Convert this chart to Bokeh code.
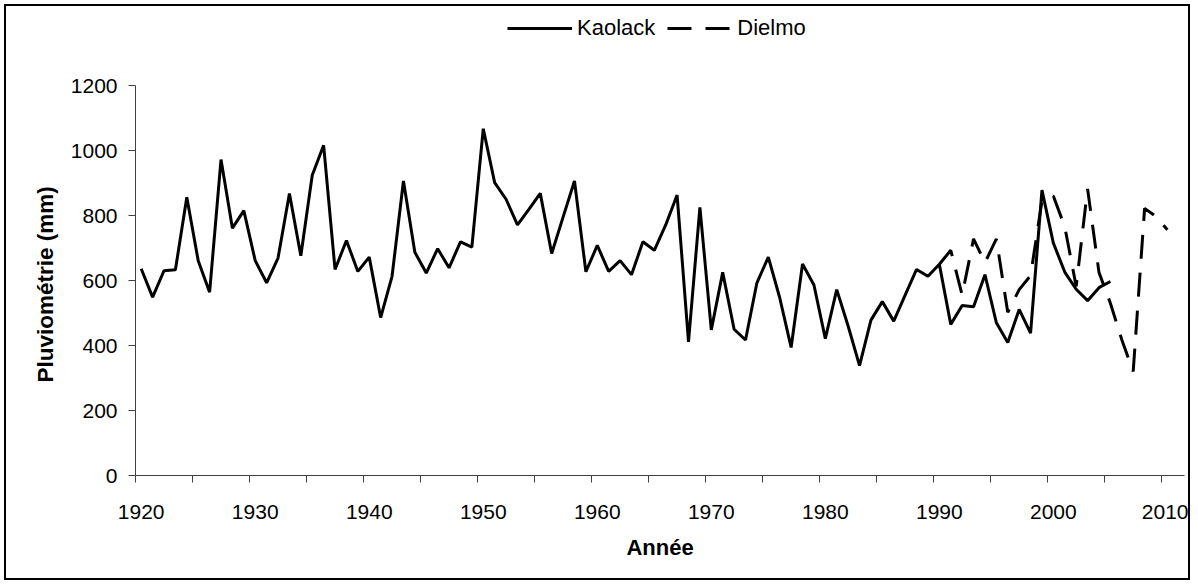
from bokeh.plotting import figure
from bokeh.models import (Range1d, FixedTicker, Legend, LegendItem, ColumnDataSource, Title)
from bokeh.embed import file_html
from bokeh.resources import INLINE

# ---------------- data ----------------
kaolack_years = list(range(1920, 2006))
kaolack_mm = [636, 549, 630, 633, 856, 661, 564, 972, 761, 815,
              661, 593, 669, 868, 676, 924, 1016, 634, 723, 628,
              672, 486, 613, 906, 687, 623, 698, 639, 719, 703,
              1067, 901, 850, 771, 819, 868, 683, 795, 906, 627,
              708, 628, 661, 618, 719, 693, 771, 863, 411, 825,
              448, 625, 450, 417, 593, 672, 547, 394, 651, 586,
              421, 572, 460, 338, 478, 535, 475, 555, 634, 613,
              650, 465, 523, 519, 618, 470, 409, 511, 438, 878,
              715, 626, 573, 538, 578, 597]

dielmo_years = list(range(1990, 2011))
dielmo_mm = [650, 693, 555, 728, 655, 728, 502, 572, 615, 845,
             860, 765, 582, 882, 625, 530, 418, 320, 822, 797, 756]

y_ticks = [0, 200, 400, 600, 800, 1000, 1200]
x_label_years = list(range(1920, 2011, 10))
x_boundary_ticks = [1919.5 + 5 * k for k in range(19)]

FONT = "Liberation Sans"
AXIS_COL = "#404040"

# layout (pixels)
PLOT_H = 576
MB_TOP = 0
MB_BOTTOM = 107
AXIS_TOP_PX = 79          # distance from canvas top to the 1200 tick
frame_h = PLOT_H - MB_TOP - MB_BOTTOM
px_per_unit = (frame_h - (AXIS_TOP_PX - MB_TOP)) / 1200.0
y_top = 1200 + (AXIS_TOP_PX - MB_TOP) / px_per_unit

p = figure(width=1186, height=PLOT_H, output_backend="svg", toolbar_location=None,
           x_range=Range1d(1919.5, 2011.5), y_range=Range1d(0, y_top),
           min_border_left=129, min_border_right=8, min_border_top=MB_TOP,
           min_border_bottom=MB_BOTTOM)
p.styles = {"border": "2px solid #000000", "margin-left": "4px",
            "margin-top": "4px"}
p.outline_line_color = None
p.xgrid.visible = False
p.ygrid.visible = False
p.background_fill_color = "white"
p.border_fill_color = "white"

src_k = ColumnDataSource(dict(x=kaolack_years, y=kaolack_mm))
src_d = ColumnDataSource(dict(x=dielmo_years, y=dielmo_mm))

r_d = p.line("x", "y", source=src_d, line_color="black", line_width=3,
             line_dash="24 14")
r_k = p.line("x", "y", source=src_k, line_color="black", line_width=3)

# x axis
xa = p.xaxis[0]
xa.ticker = FixedTicker(ticks=x_label_years, minor_ticks=x_boundary_ticks)
xa.major_tick_out = 0
xa.major_tick_in = 0
xa.minor_tick_out = 7
xa.minor_tick_in = 0
xa.axis_line_color = AXIS_COL
xa.minor_tick_line_color = AXIS_COL
xa.major_label_text_font = FONT
xa.major_label_text_font_size = "21px"
xa.major_label_text_color = "black"
xa.major_label_standoff = 22
xa.axis_label = "Année"
xa.axis_label_text_font = FONT
xa.axis_label_text_font_size = "22px"
xa.axis_label_text_font_style = "bold"
xa.axis_label_text_color = "black"
xa.axis_label_standoff = 13

# y axis
ya = p.yaxis[0]
ya.bounds = (0, 1200)
ya.ticker = FixedTicker(ticks=y_ticks)
ya.major_tick_out = 7
ya.major_tick_in = 0
ya.minor_tick_line_color = None
ya.axis_line_color = AXIS_COL
ya.major_tick_line_color = AXIS_COL
ya.major_label_text_font = FONT
ya.major_label_text_font_size = "21px"
ya.major_label_text_color = "black"
ya.major_label_standoff = 11

# y-axis title, centred on the 0-1200 axis span
y_title = Title(text="Pluviométrie (mm)", align="left", offset=93, standoff=19,
                text_font=FONT, text_font_size="22.5px", text_font_style="bold",
                text_color="black")
p.add_layout(y_title, "left")

legend = Legend(items=[LegendItem(label="Kaolack", renderers=[r_k]),
                       LegendItem(label="Dielmo", renderers=[r_d])],
                orientation="horizontal", location=(372, 434),
                border_line_color=None, background_fill_alpha=0,
                label_text_font=FONT, label_text_font_size="22px",
                label_text_color="black",
                glyph_width=65, glyph_height=20, label_standoff=5,
                spacing=12, padding=0, margin=0)
p.add_layout(legend, "center")

open("out.html", "w").write(file_html(p, INLINE))
